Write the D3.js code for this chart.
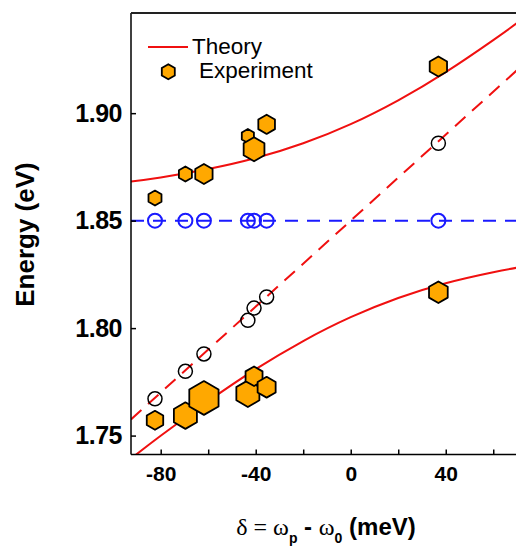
<!DOCTYPE html>
<html>
<head>
<meta charset="utf-8">
<script src="https://cdn.jsdelivr.net/npm/d3@7"></script>
<style>
  body { margin: 0; background: #fff; }
  svg { display: block; }
  .axis path, .axis line { stroke: #000; stroke-width: 1.5; }
  .axis text { font-family: "Liberation Sans", Arial, sans-serif; font-weight: bold; fill: #000; }
</style>
</head>
<body>
<div id="chart"></div>
<script>
// measured points, detuning in meV, energy in eV
var detuning = [-82.4, -69.6, -61.8, -43.3, -40.7, -35.4, 36.9];
var upperE = [1.8605, 1.8717, 1.8717, 1.8894, 1.8832, 1.8948, 1.9217];
var lowerE = [1.7571, 1.7593, 1.7675, 1.7695, 1.7776, 1.7725, 1.8167];
var upperWeight = [7.5, 7.5, 10, 7, 12, 9.6, 10];
var lowerWeight = [9.5, 13.3, 16.9, 13.3, 9.8, 10.4, 10.8];
var photonE = [1.7671, 1.7799, 1.7880, 1.8036, 1.8093, 1.8145, 1.8860];
var excitonE = [1.85, 1.85, 1.85, 1.85, 1.85, 1.85, 1.85];

// theory curves
var theoryX = [-92.5, -80, -60, -40, -20, 0, 20, 40, 60, 70];
var upperTheory = [1.8682, 1.8701, 1.8740, 1.8791, 1.8860, 1.8949, 1.9060, 1.9191, 1.9340, 1.9419];
var lowerTheory = [1.7393, 1.7499, 1.7660, 1.7809, 1.7940, 1.8051, 1.8140, 1.8209, 1.8260, 1.8281];
var photonX = [-92.5, 70];
var photonTheory = [1.7575, 1.9200];
var excitonTheory = [1.85, 1.85];

var xMajor = [-80, -40, 0, 40];
var xMinor = [-60, -20, 20, 60];
var yTicks = [1.75, 1.80, 1.85, 1.90];

var vWidth = 516, vHeight = 546;
var vPlot = { left: 131, top: 13, right: 517, bottom: 454.5 };

var svg = d3.select("#chart").append("svg")
    .attr("width", vWidth)
    .attr("height", vHeight);

var x = d3.scaleLinear().domain([-92.5, 70]).range([vPlot.left, vPlot.right]);
var y = d3.scaleLinear().domain([1.7412, 1.9466]).range([vPlot.bottom, vPlot.top]);
var r = d3.scaleLinear().domain([0, 1]).range([0, 1]);

svg.append("clipPath").attr("id", "clip")
    .append("rect")
    .attr("x", vPlot.left).attr("y", vPlot.top)
    .attr("width", vPlot.right - vPlot.left)
    .attr("height", vPlot.bottom - vPlot.top);

var plot = svg.append("g").attr("clip-path", "url(#clip)");

function pairs(xs, ys) {
    return xs.map(function (d, i) { return [d, ys[i]]; });
}

var line = d3.line()
    .x(function (d) { return x(d[0]); })
    .y(function (d) { return y(d[1]); })
    .curve(d3.curveNatural);

// theory lines
plot.append("path").datum(pairs(photonX, excitonTheory))
    .attr("d", line).attr("fill", "none")
    .attr("stroke", "#1a1aff").attr("stroke-width", 2)
    .attr("stroke-dasharray", "13,9");
plot.append("path").datum(pairs(photonX, photonTheory))
    .attr("d", line).attr("fill", "none")
    .attr("stroke", "#f01010").attr("stroke-width", 2)
    .attr("stroke-dasharray", "14,9");
plot.append("path").datum(pairs(theoryX, upperTheory))
    .attr("d", line).attr("fill", "none")
    .attr("stroke", "#f01010").attr("stroke-width", 2);
plot.append("path").datum(pairs(theoryX, lowerTheory))
    .attr("d", line).attr("fill", "none")
    .attr("stroke", "#f01010").attr("stroke-width", 2);

// open circles
plot.selectAll(".exc").data(pairs(detuning, excitonE)).enter()
    .append("circle")
    .attr("cx", function (d) { return x(d[0]); })
    .attr("cy", function (d) { return y(d[1]); })
    .attr("r", 7).attr("fill", "none")
    .attr("stroke", "#1a1aff").attr("stroke-width", 2);
plot.selectAll(".pho").data(pairs(detuning, photonE)).enter()
    .append("circle")
    .attr("cx", function (d) { return x(d[0]); })
    .attr("cy", function (d) { return y(d[1]); })
    .attr("r", 7).attr("fill", "none")
    .attr("stroke", "#000").attr("stroke-width", 1.5);

function hexagon(aR) {
    var vPts = d3.range(6).map(function (i) {
        var a = Math.PI / 3 * i - Math.PI / 2;
        return [aR * Math.cos(a), aR * Math.sin(a)];
    });
    return "M" + vPts.join("L") + "Z";
}

function drawHex(aSel, aData) {
    aSel.selectAll(null).data(aData).enter()
        .append("path")
        .attr("transform", function (d) { return "translate(" + x(d[0]) + "," + y(d[1]) + ")"; })
        .attr("d", function (d) { return hexagon(r(d[2])); })
        .attr("fill", "#ffa800")
        .attr("stroke", "#000").attr("stroke-width", 1.8)
        .attr("stroke-linejoin", "round");
}

drawHex(plot, detuning.map(function (d, i) { return [d, lowerE[i], lowerWeight[i]]; }));
drawHex(plot, detuning.map(function (d, i) { return [d, upperE[i], upperWeight[i]]; }));

// axes
var gx = svg.append("g").attr("class", "axis")
    .attr("transform", "translate(0," + vPlot.bottom + ")")
    .call(d3.axisBottom(x).tickValues(xMajor).tickSize(-5).tickPadding(12)
        .tickFormat(function (d) { return d < 0 ? "-" + Math.abs(d) : d; }));
gx.selectAll("text").style("font-size", "21px");
gx.select(".domain").attr("d", "M" + vPlot.left + ",0H" + vWidth);

svg.append("g").attr("class", "axis")
    .attr("transform", "translate(0," + vPlot.bottom + ")")
    .call(d3.axisBottom(x).tickValues(xMinor).tickSize(-5).tickFormat(""))
    .select(".domain").remove();

var gy = svg.append("g").attr("class", "axis")
    .attr("transform", "translate(" + vPlot.left + ",0)")
    .call(d3.axisLeft(y).tickValues(yTicks).tickSize(-5).tickPadding(9)
        .tickFormat(d3.format(".2f")));
gy.selectAll("text").style("font-size", "25px").attr("letter-spacing", "-0.5");
gy.select(".domain").attr("d", "M0," + vPlot.bottom + "V" + vPlot.top);

// top frame
svg.append("line")
    .attr("x1", vPlot.left).attr("x2", vWidth)
    .attr("y1", vPlot.top).attr("y2", vPlot.top)
    .attr("stroke", "#222").attr("stroke-width", 2);

// axis titles
svg.append("text")
    .attr("transform", "translate(34,234.5) rotate(-90)")
    .attr("text-anchor", "middle")
    .style("font-family", "Liberation Sans, Arial, sans-serif")
    .style("font-weight", "bold").style("font-size", "26px")
    .text("Energy (eV)");

var xt = svg.append("text")
    .attr("x", 326).attr("y", 535)
    .attr("text-anchor", "middle")
    .style("font-family", "Liberation Sans, Arial, sans-serif")
    .style("font-weight", "bold").style("font-size", "24px");
xt.append("tspan").style("font-family", "Liberation Serif, serif").style("font-weight", "normal").text("\u03b4 = \u03c9");
xt.append("tspan").attr("dy", 8).style("font-size", "14px").text("p");
xt.append("tspan").attr("dy", -8).text(" - ");
xt.append("tspan").style("font-family", "Liberation Serif, serif").style("font-weight", "normal").text("\u03c9");
xt.append("tspan").attr("dy", 8).style("font-size", "14px").text("0");
xt.append("tspan").attr("dy", -8).text(" (meV)");

// legend
svg.append("line")
    .attr("x1", 148).attr("x2", 188).attr("y1", 47).attr("y2", 47)
    .attr("stroke", "#f01010").attr("stroke-width", 2);
svg.append("text").attr("x", 192).attr("y", 54)
    .style("font-family", "Liberation Sans, Arial, sans-serif")
    .style("font-size", "22.5px").text("Theory");
svg.append("path")
    .attr("transform", "translate(168.3,71.7)")
    .attr("d", hexagon(7.5))
    .attr("fill", "#ffa800").attr("stroke", "#000").attr("stroke-width", 1.8);
svg.append("text").attr("x", 199).attr("y", 78)
    .style("font-family", "Liberation Sans, Arial, sans-serif")
    .style("font-size", "22.5px").text("Experiment");
</script>
</body>
</html>
